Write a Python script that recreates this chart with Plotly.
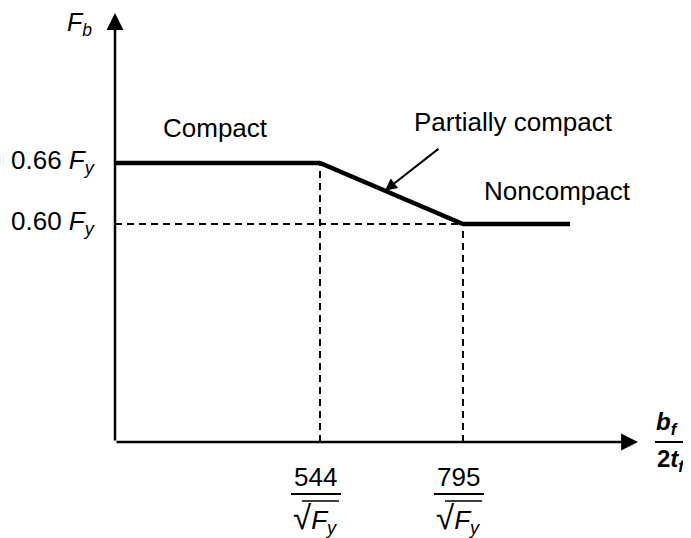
import numpy as np
import plotly.graph_objects as go

# ---- data (schematic) ----
X_ORIGIN = 184.2          # b_f/2t_f value where the vertical axis sits
X_END = 1102.2            # arrow tip of horizontal axis
Y_ORIGIN = 0.3856         # F_b value where the horizontal axis sits
Y_END = 0.8075            # arrow tip of vertical axis

limit_values = [544, 795]                      # 544/sqrt(Fy), 795/sqrt(Fy)
limit_labels = ["544", "795"]
curve_x = [X_ORIGIN, 544, 795, 983]            # b_f / 2t_f
curve_y = [0.66, 0.66, 0.60, 0.60]             # F_b / F_y
ytick_vals = [0.60, 0.66]
ytick_text = ["0.60 <i>F</i><sub><i>y</i></sub>", "0.66 <i>F</i><sub><i>y</i></sub>"]
region_labels = ["Compact", "Partially compact", "Noncompact"]

FONT = "Liberation Sans, Arial, sans-serif"
FS = 26

fig = go.Figure()

dash = dict(color="black", width=2, dash="7px,5px")
# dashed guides
fig.add_trace(go.Scatter(x=[limit_values[0], limit_values[0]], y=[Y_ORIGIN, curve_y[1]],
                         mode="lines", line=dash, cliponaxis=False, hoverinfo="skip"))
fig.add_trace(go.Scatter(x=[limit_values[1], limit_values[1]], y=[Y_ORIGIN, curve_y[2]],
                         mode="lines", line=dash, cliponaxis=False, hoverinfo="skip"))
fig.add_trace(go.Scatter(x=[X_ORIGIN, limit_values[1]], y=[curve_y[2], curve_y[2]],
                         mode="lines", line=dash, cliponaxis=False, hoverinfo="skip"))
# main curve
fig.add_trace(go.Scatter(x=curve_x, y=curve_y, mode="lines",
                         line=dict(color="black", width=4.5), cliponaxis=False,
                         hoverinfo="skip"))

ann = []
# axes with arrowheads
ann.append(dict(x=X_ORIGIN, y=Y_END, ax=X_ORIGIN, ay=Y_ORIGIN, axref="x", ayref="y",
                xref="x", yref="y", text="", showarrow=True, arrowhead=2,
                arrowwidth=2.5, arrowsize=1.35, arrowcolor="black"))
ann.append(dict(x=X_END, y=Y_ORIGIN, ax=X_ORIGIN, ay=Y_ORIGIN, axref="x", ayref="y",
                xref="x", yref="y", text="", showarrow=True, arrowhead=2,
                arrowwidth=2.5, arrowsize=1.35, arrowcolor="black"))

# y tick labels
for v, t in zip(ytick_vals, ytick_text):
    ann.append(dict(x=X_ORIGIN, y=v, text=t, showarrow=False, xanchor="right",
                    yanchor="middle", xshift=-17, yshift=1.5,
                    font=dict(size=FS, family=FONT, color="black")))

# region labels
ann.append(dict(x=X_ORIGIN, y=curve_y[1], text=region_labels[0], showarrow=False,
                xanchor="left", yanchor="middle", xshift=46, yshift=34.5,
                font=dict(size=FS, family=FONT, color="black")))
ann.append(dict(x=limit_values[0], y=curve_y[1], text=region_labels[1], showarrow=False,
                xanchor="left", yanchor="middle", xshift=92, yshift=40.5,
                font=dict(size=FS, family=FONT, color="black")))
ann.append(dict(x=limit_values[1], y=curve_y[2], text=region_labels[2], showarrow=False,
                xanchor="left", yanchor="middle", xshift=19, yshift=33,
                font=dict(size=FS, family=FONT, color="black")))

# pointer arrow to sloped segment
xa = 658
ya = float(np.interp(xa, [limit_values[0], limit_values[1]], [curve_y[1], curve_y[2]]))
ann.append(dict(x=xa, y=ya, ax=55, ay=-43, text="", showarrow=True, arrowhead=2,
                arrowwidth=2, arrowsize=1.2, arrowcolor="black"))

# axis titles
ann.append(dict(x=X_ORIGIN, y=Y_END, text="<i>F</i><sub><i>b</i></sub>", showarrow=False,
                xanchor="right", yanchor="middle", xshift=-21, yshift=-11,
                font=dict(size=25, family=FONT, color="black")))
ann.append(dict(x=X_END, y=Y_ORIGIN, text="<b><i>b</i><sub><i>f</i></sub></b>",
                showarrow=False, xanchor="center", yanchor="bottom", xshift=29, yshift=1,
                font=dict(size=24, family=FONT, color="black")))
ann.append(dict(x=X_END, y=Y_ORIGIN, text="<b>2<i>t</i><sub><i>f</i></sub></b>",
                showarrow=False, xanchor="center", yanchor="top", xshift=33, yshift=-1,
                font=dict(size=24, family=FONT, color="black")))

shapes = [dict(type="line", xref="paper", yref="paper", xsizemode="pixel",
               ysizemode="pixel", xanchor=1, yanchor=0, x0=17, x1=60, y0=0, y1=0,
               line=dict(color="black", width=2))]

# x tick fraction labels
for v, lab in zip(limit_values, limit_labels):
    ann.append(dict(x=v, y=Y_ORIGIN, text=lab, showarrow=False, xanchor="center",
                    yanchor="middle", xshift=-4, yshift=-34.5,
                    font=dict(size=FS, family=FONT, color="black")))
    ann.append(dict(x=v, y=Y_ORIGIN,
                    text="<span style='font-size:33px'>\u221a</span><i>F</i><sub><i>y</i></sub>",
                    showarrow=False, xanchor="center", yanchor="top", xshift=-4, yshift=-55,
                    font=dict(size=FS, family=FONT, color="black")))
    shapes.append(dict(type="line", xref="x", yref="paper", xsizemode="pixel",
                       ysizemode="pixel", xanchor=v, yanchor=0,
                       x0=-29, x1=21, y0=-52, y1=-52, line=dict(color="black", width=2)))
    shapes.append(dict(type="line", xref="x", yref="paper", xsizemode="pixel",
                       ysizemode="pixel", xanchor=v, yanchor=0,
                       x0=-18, x1=19, y0=-59, y1=-59, line=dict(color="black", width=1.5)))

# the page places the figure 8px in from the window's top-left corner
fig.update_layout(
    width=683, height=530,
    margin=dict(l=107, r=53, t=5, b=96, pad=0, autoexpand=False),
    paper_bgcolor="white", plot_bgcolor="white",
    showlegend=False,
    annotations=ann, shapes=shapes,
    xaxis=dict(range=[X_ORIGIN, X_END], showgrid=False, zeroline=False, automargin=False,
               showline=False, showticklabels=False, ticks=""),
    yaxis=dict(range=[Y_ORIGIN, Y_END], showgrid=False, zeroline=False, automargin=False,
               showline=False, tickvals=ytick_vals, showticklabels=False, ticks=""),
    font=dict(family=FONT, color="black"),
)

fig.write_html("out.html")
